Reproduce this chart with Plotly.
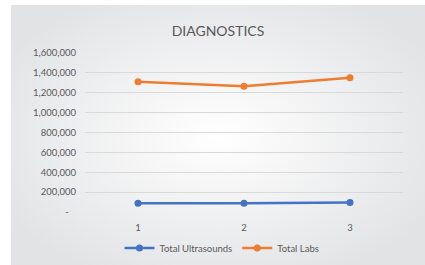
import base64
import plotly.graph_objects as go

categories = ["1", "2", "3"]
ultrasounds = [88000, 88000, 96000]
labs = [1310000, 1265000, 1350000]
y_ticks = [0, 200000, 400000, 600000, 800000, 1000000, 1200000, 1400000, 1600000]
y_tick_labels = ["-\u00a0\u00a0\u00a0", "200,000", "400,000", "600,000", "800,000", "1,000,000",
                 "1,200,000", "1,400,000", "1,600,000"]

W, H = 425, 265
L, R, T, B = 85, 22, 53, 53
pw, ph = W - L - R, H - T - B

svg = (
    '<svg xmlns="http://www.w3.org/2000/svg" width="414" height="260" viewBox="0 0 414 260" preserveAspectRatio="none">'
    '<defs><radialGradient id="g" cx="50%" cy="50%" r="60%">'
    '<stop offset="0%" stop-color="#ffffff"/>'
    '<stop offset="100%" stop-color="#e2e3e5"/>'
    '</radialGradient></defs>'
    '<rect width="414" height="260" fill="url(#g)"/></svg>'
)
src = "data:image/svg+xml;base64," + base64.b64encode(svg.encode()).decode()

font = "Lato, 'Open Sans', sans-serif"
fig = go.Figure()
fig.add_trace(go.Scatter(x=categories, y=ultrasounds, name="Total Ultrasounds",
                         mode="lines+markers",
                         line=dict(color="#4472C4", width=2.5),
                         marker=dict(size=7, color="#4472C4")))
fig.add_trace(go.Scatter(x=categories, y=labs, name="Total Labs",
                         mode="lines+markers",
                         line=dict(color="#ED7D31", width=2.5),
                         marker=dict(size=7, color="#ED7D31")))

x0 = (11 - L) / pw
x1 = (W - L) / pw
y1 = (H - B - 5) / ph
y0 = (H - B - H) / ph
fig.add_layout_image(dict(source=src, xref="paper", yref="paper",
                          x=x0, y=y1, sizex=x1 - x0, sizey=y1 - y0,
                          xanchor="left", yanchor="top", sizing="stretch",
                          layer="below"))

fig.update_layout(
    width=W, height=H,
    margin=dict(l=L, r=R, t=T, b=B),
    paper_bgcolor="white", plot_bgcolor="rgba(0,0,0,0)",
    font=dict(family=font, size=9.5, color="#595959"),
    title=dict(text="DIAGNOSTICS", x=218 / W, xanchor="center",
               y=1 - 31 / H, yanchor="middle",
               font=dict(family=font, size=14, color="#595959")),
    showlegend=True,
    legend=dict(orientation="h", xref="container", yref="container",
                x=222 / W, xanchor="center",
                y=1 - 248 / H, yanchor="middle",
                font=dict(family=font, size=9.5, color="#595959"),
                bgcolor="rgba(0,0,0,0)", itemwidth=30, tracegroupgap=0),
    xaxis=dict(type="category", range=[-0.5, 2.5], showgrid=False,
               showline=False, zeroline=False, ticks="", automargin=False,
               ticklabelstandoff=8,
               tickfont=dict(size=9.5, color="#595959")),
    yaxis=dict(range=[0, 1600000], tickvals=y_ticks, ticktext=y_tick_labels,
               showgrid=True, gridcolor="#d9d9d9", gridwidth=1, automargin=False,
               zeroline=False, showline=False, ticks="", ticklabelstandoff=8,
               tickfont=dict(size=9.5, color="#595959")),
)
fig.write_html("out.html", config={"displayModeBar": False},
               post_script="document.body.style.margin='0';")
